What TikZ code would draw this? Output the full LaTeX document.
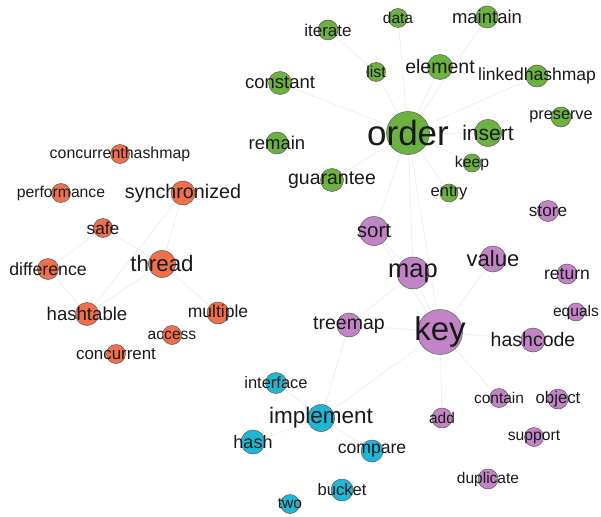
\documentclass[tikz,border=0pt]{standalone}
\usepackage{fontspec}
\setmainfont{Liberation Sans}
\usetikzlibrary{backgrounds}
\definecolor{topicgreen}{RGB}{108,178,64}
\definecolor{topicorange}{RGB}{240,112,76}
\definecolor{topicpurple}{RGB}{194,132,198}
\definecolor{topiccyan}{RGB}{30,184,214}
\tikzset{
    dot/.style={circle, draw=black!65, line width=0.5pt, inner sep=0pt},
    gdot/.style={dot, fill=topicgreen},
    odot/.style={dot, fill=topicorange},
    pdot/.style={dot, fill=topicpurple},
    cdot/.style={dot, fill=topiccyan},
    link/.style={draw=black!6, line width=0.9pt},
}
% word: name, x, y, diameter, font size, dot style
\newcommand{\word}[6]{%
    \node[#6, minimum size=#4pt] (#1) at (#2,#3) {};
    \node[text=black!90, inner sep=0pt, font=\fontsize{#5}{#5}\selectfont] (#1-t) at (#1) {#1};
}

\begin{document}
\begin{tikzpicture}[x=1pt, y=-1pt]
        \useasboundingbox (0,0) rectangle (601,516);
        %green cluster
        \word{order}{408}{133}{43}{35}{gdot}
        \word{insert}{488}{133}{27}{21}{gdot}
        \word{element}{440}{67}{25}{19.5}{gdot}
        \word{linkedhashmap}{537}{76}{22}{17.5}{gdot}
        \word{maintain}{487}{17}{22}{18.5}{gdot}
        \word{data}{398}{18}{19}{15.5}{gdot}
        \word{iterate}{328}{30}{20}{17}{gdot}
        \word{list}{376}{72}{19}{15.8}{gdot}
        \word{constant}{280}{83}{23}{18.5}{gdot}
        \word{remain}{277}{143}{22}{18.5}{gdot}
        \word{guarantee}{332}{180}{23}{19.5}{gdot}
        \word{preserve}{561}{117}{20}{16.3}{gdot}
        \word{keep}{472}{163}{18}{15.7}{gdot}
        \word{entry}{449}{193}{18}{16.5}{gdot}
        %purple cluster
        \word{key}{440}{332}{45}{33}{pdot}
        \word{map}{413}{273}{32}{25.5}{pdot}
        \word{value}{493}{259}{26}{22}{pdot}
        \word{sort}{374}{231}{29}{20.5}{pdot}
        \word{store}{548}{211}{21}{17.2}{pdot}
        \word{return}{567}{274}{20}{17.5}{pdot}
        \word{equals}{576}{312}{18}{15.6}{pdot}
        \word{hashcode}{533}{340}{24}{19.5}{pdot}
        \word{treemap}{349}{325}{24}{19.5}{pdot}
        \word{add}{442}{418}{20}{15.4}{pdot}
        \word{contain}{499}{398}{19}{15.5}{pdot}
        \word{object}{558}{399}{20}{16.8}{pdot}
        \word{support}{534}{437}{19}{15.7}{pdot}
        \word{duplicate}{488}{479}{20}{15.5}{pdot}
        %cyan cluster
        \word{implement}{321}{418}{27}{22.5}{cdot}
        \word{interface}{276}{383}{21}{16.5}{cdot}
        \word{hash}{253}{442}{24}{18}{cdot}
        \word{compare}{372}{451}{22}{17.6}{cdot}
        \word{bucket}{342}{490}{22}{16.6}{cdot}
        \word{two}{290}{504}{19}{15.6}{cdot}
        %orange cluster
        \word{thread}{162}{264}{27}{22.3}{odot}
        \word{synchronized}{183}{193}{24}{19.7}{odot}
        \word{concurrenthashmap}{120}{154}{19}{15.9}{odot}
        \word{performance}{61}{193}{19}{15.7}{odot}
        \word{safe}{103}{228}{19}{17.3}{odot}
        \word{difference}{48}{269}{21}{17.7}{odot}
        \word{hashtable}{87}{314}{23}{18.6}{odot}
        \word{multiple}{218}{313}{22}{17.5}{odot}
        \word{access}{172}{335}{19}{15.6}{odot}
        \word{concurrent}{116}{354}{19}{16.9}{odot}
        %faint links behind the dots
        \begin{scope}[on background layer]
            \foreach \a/\b in {order/guarantee, order/element, order/maintain,
                order/linkedhashmap, order/insert, order/keep, order/entry,
                order/map, order/sort, order/key, order/list, list/iterate,
                order/constant, order/data,
                key/map, key/value, key/treemap, key/hashcode, key/sort,
                key/implement, key/add, key/contain, map/sort, map/treemap,
                implement/interface, implement/hash, implement/compare,
                implement/treemap, thread/safe, thread/synchronized,
                thread/multiple, thread/hashtable, safe/difference,
                difference/hashtable, hashtable/synchronized}
                \path[link] (\a) -- (\b);
        \end{scope}
    \end{tikzpicture}
\end{document}
